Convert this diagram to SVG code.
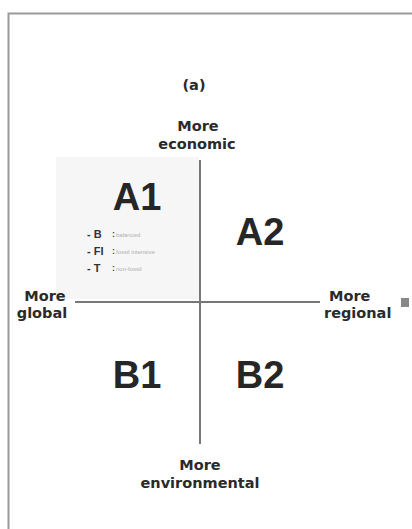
<svg xmlns="http://www.w3.org/2000/svg" width="412" height="529" viewBox="0 0 412 529">
<style>
.lbl{font-family:"DejaVu Sans",Verdana,sans-serif;font-size:14.5px;font-weight:bold;fill:#2a2a2a}
.big{font-family:"Liberation Sans",Arial,sans-serif;font-size:38px;font-weight:bold;fill:#262626;text-anchor:middle}
.sub{font-family:"Liberation Sans",Arial,sans-serif;font-size:11px;font-weight:bold;fill:#333}
.col{font-family:"Liberation Sans",Arial,sans-serif;font-size:9px;font-weight:bold;fill:#444}
.desc{font-family:"Liberation Sans",Arial,sans-serif;font-size:6px;fill:#b0b0b0}
.ax{stroke:#777;stroke-width:2;fill:none}
</style>
<rect width="412" height="529" fill="#fff"/>
<path d="M8.5 529 V13.5 H412" fill="none" stroke="#9a9a9a" stroke-width="2"/>
<rect x="56" y="157" width="143" height="142" fill="#f6f6f6"/>
<text class="lbl" x="194" y="90" text-anchor="middle">(a)</text>
<g id="economic"><text class="lbl" x="198" y="131" text-anchor="middle">More</text><text class="lbl" x="197" y="149" text-anchor="middle">economic</text></g>
<g id="global"><text class="lbl" x="45" y="301" text-anchor="middle">More</text><text class="lbl" x="42" y="318" text-anchor="middle">global</text></g>
<g id="regional"><text class="lbl" x="329" y="301">More</text><text class="lbl" x="324" y="318">regional</text></g>
<rect x="401" y="298" width="8" height="9" fill="#888"/>
<g id="environmental"><text class="lbl" x="200" y="470" text-anchor="middle">More</text><text class="lbl" x="200" y="488" text-anchor="middle">environmental</text></g>
<g id="connectors">
<line class="ax" x1="200" y1="160" x2="200" y2="444"/>
<line class="ax" x1="75" y1="302" x2="320" y2="302"/>
</g>
<g id="A1"><text class="big" x="137" y="210">A1</text>
<text class="sub" x="87" y="238">- B</text><text class="col" x="112" y="237">:</text><text class="desc" x="116" y="237">balanced</text>
<text class="sub" x="87" y="255">- FI</text><text class="col" x="112" y="254">:</text><text class="desc" x="116" y="254">fossil intensive</text>
<text class="sub" x="87" y="272">- T</text><text class="col" x="112" y="271">:</text><text class="desc" x="116" y="271">non-fossil</text></g>
<g id="A2"><text class="big" x="260" y="245">A2</text></g>
<g id="B1"><text class="big" x="137" y="388">B1</text></g>
<g id="B2"><text class="big" x="260" y="388">B2</text></g>
</svg>
